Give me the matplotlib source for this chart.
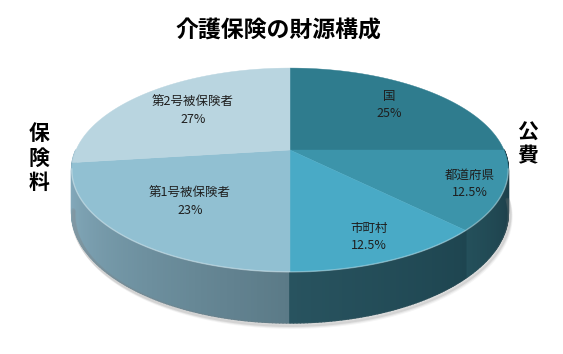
import numpy as np
import matplotlib
matplotlib.use("Agg")
import matplotlib.pyplot as plt
from matplotlib.collections import PolyCollection
from matplotlib.colors import to_rgb

plt.rcParams["font.family"] = ["Noto Sans CJK JP", "DejaVu Sans"]

# data
title = "介護保険の財源構成"
categories = ["国", "都道府県", "市町村", "第1号被保険者", "第2号被保険者"]
shares = [25, 12.5, 12.5, 23, 27]
share_labels = ["25%", "12.5%", "12.5%", "23%", "27%"]
left_group = "保険料"
right_group = "公費"

# styles
top_colors = ["#2f7c8e", "#3c94aa", "#49aac6", "#91c0d2", "#b9d5e0"]
side_colors = [("#1f4a55", "#1f4a55"), ("#24505b", "#1a3741"),
               ("#28535f", "#1e4550"), ("#88afc1", "#5b7a87"),
               ("#a8c8d6", "#9fc0ce")]
label_radius = [0.72, 0.85, 0.82, 0.64, 0.655]

# projection of the tilted pie (pixel space)
CX, CY = 290, 150
A, B, K, D = 214, 98, 0.196, 41


def project(t, r=1.0, z=0.0):
    u = r * np.cos(t)
    v = r * np.sin(t)
    w = 1 + K * v
    return CX + A * u / w, CY - B * v / w + D * z / w


def mix(c1, c2, f):
    a = np.array(to_rgb(c1))
    b = np.array(to_rgb(c2))
    return tuple(a + (b - a) * f)


fig = plt.figure(figsize=(5.63, 3.54), dpi=100)
ax = fig.add_axes([0, 0, 1, 1])
ax.set_xlim(0, 563)
ax.set_ylim(354, 0)
ax.axis("off")

# wedge angles: start at 12 o'clock, clockwise
fracs = np.array(shares) / sum(shares)
bounds = np.pi / 2 - 2 * np.pi * np.concatenate([[0], np.cumsum(fracs)])
wedges = [(bounds[i + 1], bounds[i]) for i in range(len(shares))]


def wedge_of(t):
    for i, (t1, t2) in enumerate(wedges):
        for s in (t, t - 2 * np.pi, t + 2 * np.pi):
            if t1 <= s <= t2:
                return i
    return 0


# soft shadow under the front edge
ts = np.linspace(np.pi * 1.05, np.pi * 1.98, 200)
for off, alpha in [(4, 0.08), (3, 0.12), (2, 0.18)]:
    sx, sy = project(ts, 1.0, 1.0)
    ax.plot(sx + off * 0.6, sy + off, color="gray", alpha=alpha, lw=3,
            solid_capstyle="round")

# side of the cylinder, drawn back to front
ts = np.linspace(np.pi, 2 * np.pi, 241)
strips = []
for t0, t1 in zip(ts[:-1], ts[1:]):
    tm = 0.5 * (t0 + t1)
    i = wedge_of(tm)
    lo, hi = wedges[i]
    a0, a1 = lo % (2 * np.pi), hi % (2 * np.pi)
    if a1 <= a0:
        a1 += 2 * np.pi
    span_lo = max(a0, np.pi)
    span_hi = min(a1, 2 * np.pi)
    f = (tm - span_lo) / max(span_hi - span_lo, 1e-6)
    col = mix(side_colors[i][0], side_colors[i][1], np.clip(f, 0, 1))
    x0, y0 = project(t0)
    x1, y1 = project(t1)
    x2, y2 = project(t1, 1.0, 1.0)
    x3, y3 = project(t0, 1.0, 1.0)
    strips.append((np.sin(tm), [(x0, y0), (x1, y1), (x2, y2), (x3, y3)], col))
strips.sort(key=lambda s: -s[0])
pc = PolyCollection([s[1] for s in strips], facecolors=[s[2] for s in strips],
                    edgecolors=[s[2] for s in strips], linewidths=1.2)
ax.add_collection(pc)

# top face
for i, (t1, t2) in enumerate(wedges):
    tt = np.linspace(t1, t2, 120)
    x, y = project(tt)
    ax.fill(np.r_[CX, x], np.r_[CY, y], color=top_colors[i], lw=0.3,
            ec=top_colors[i])

# light rim along the front edge
tt = np.linspace(np.pi * 1.06, np.pi * 1.94, 200)
x, y = project(tt)
ax.plot(x, y, color="white", alpha=0.35, lw=1)

# labels
for i, (t1, t2) in enumerate(wedges):
    tm = 0.5 * (t1 + t2)
    x, y = project(tm, label_radius[i])
    ax.text(x, y, f"{categories[i]}\n{share_labels[i]}", ha="center",
            va="center", fontsize=9, color="#1e1e1e", linespacing=1.4)

ax.text(278, 31, title, ha="center", va="center", fontsize=16.5,
        fontweight="bold", color="black")
ax.text(39, 158, "\n".join(left_group), ha="center", va="center",
        fontsize=15, fontweight="bold", linespacing=1.2)
ax.text(528, 144, "\n".join(right_group), ha="center", va="center",
        fontsize=15, fontweight="bold", linespacing=1.2)

fig.savefig("out.png", dpi=100)
